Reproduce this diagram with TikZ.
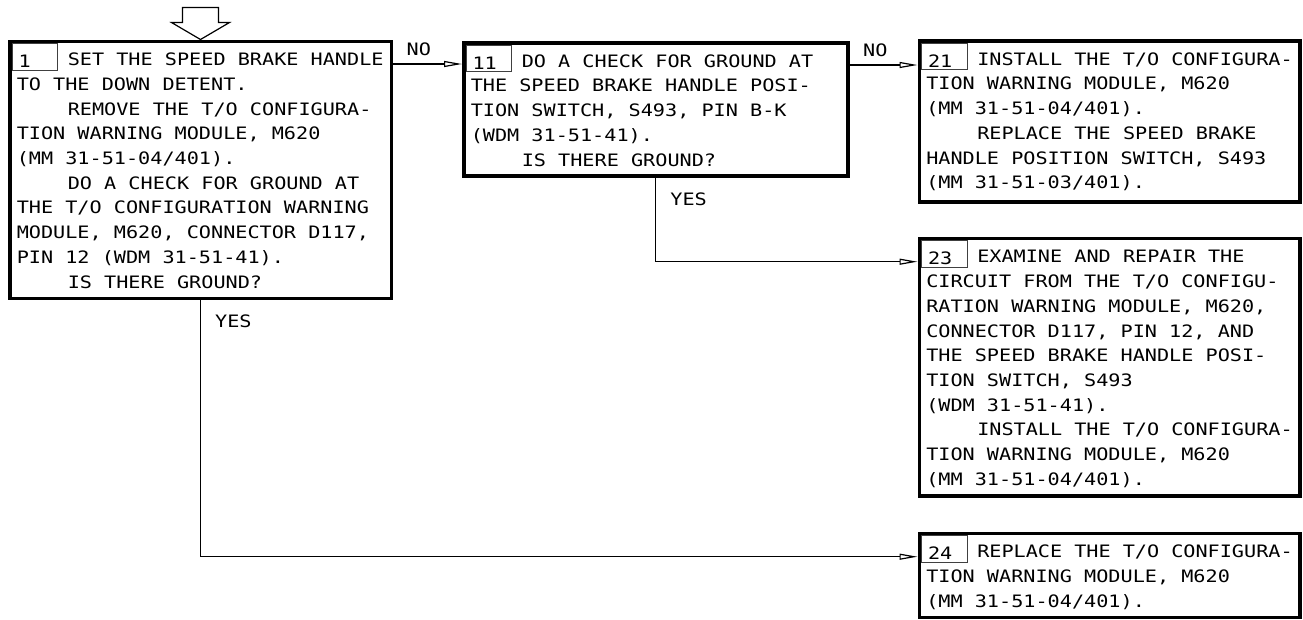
\documentclass[tikz,border=0pt]{standalone}
\usepackage{fontspec}
\setmainfont{DejaVu Sans Mono}[FakeStretch=1.18]
\usetikzlibrary{arrows.meta, calc}
\newcommand{\stepfont}{\fontsize{17.1}{24.7}\selectfont\frenchspacing}
\newcommand{\ind}{\hspace*{51pt}}

\begin{document}
\begin{tikzpicture}[x=1pt, y=-1pt,
        font=\stepfont,
        stepbox/.style={rectangle, draw, line width=3.5pt, inner xsep=7pt, inner ysep=9pt,
                        align=flush left, text height=15.5pt, anchor=north west},
        numcell/.style={rectangle, draw=black!75, line width=0.9pt, outer sep=0pt, inner xsep=6.5pt,
                        inner ysep=1pt, text width=32.5pt, align=flush left, text height=23pt,
                        text depth=1.5pt, anchor=north west},
        flow/.style={-{Triangle[open, length=18pt, width=6pt]}, line width=1.2pt},
        answer/.style={inner sep=0pt, anchor=base west}
    ]
    \useasboundingbox (0,0) rectangle (1303,619);
    \node[stepbox, text width=367.5pt, text depth=223.5pt] (b1) at (8,39.5)
        {\ind SET THE SPEED BRAKE HANDLE\\TO THE DOWN DETENT.\\\ind REMOVE THE T/O CONFIGURA-\\TION WARNING MODULE, M620\\(MM 31-51-04/401).\\\ind DO A CHECK FOR GROUND AT\\THE T/O CONFIGURATION WARNING\\MODULE, M620, CONNECTOR D117,\\PIN 12 (WDM 31-51-41).\\\ind IS THERE GROUND?};
    \node[stepbox, text width=370pt, text depth=99.5pt] (b11) at (462,41)
        {\ind DO A CHECK FOR GROUND AT\\THE SPEED BRAKE HANDLE POSI-\\TION SWITCH, S493, PIN B-K\\(WDM 31-51-41).\\\ind IS THERE GROUND?};
    \node[stepbox, text width=366.5pt, text depth=127.5pt] (b21) at (917.5,39)
        {\ind INSTALL THE T/O CONFIGURA-\\TION WARNING MODULE, M620\\(MM 31-51-04/401).\\\ind REPLACE THE SPEED BRAKE\\HANDLE POSITION SWITCH, S493\\(MM 31-51-03/401).};
    \node[stepbox, text width=366.5pt, text depth=224pt] (b23) at (917.5,236.7)
        {\ind EXAMINE AND REPAIR THE\\CIRCUIT FROM THE T/O CONFIGU-\\RATION WARNING MODULE, M620,\\CONNECTOR D117, PIN 12, AND\\THE SPEED BRAKE HANDLE POSI-\\TION SWITCH, S493\\(WDM 31-51-41).\\\ind INSTALL THE T/O CONFIGURA-\\TION WARNING MODULE, M620\\(MM 31-51-04/401).};
    \node[stepbox, text width=366.5pt, text depth=50.3pt] (b24) at (917.5,531.7)
        {\ind REPLACE THE T/O CONFIGURA-\\TION WARNING MODULE, M620\\(MM 31-51-04/401).};
    \foreach \b/\n in {b1/1, b11/11, b21/21, b23/23, b24/24}
        \node[numcell] (c\n) at ([shift={(4pt,-4pt)}]\b.north west) {\n};
    \draw[line width=1.2pt] (b1.north) -- ++(-29,-17) -- ++(11,0) -- ++(0,-15) -- ++(36,0)
        -- ++(0,15) -- ++(11,0) -- cycle;
    \coordinate (no1) at ([yshift=-24.5pt]b1.north east);
    \coordinate (no11) at ([yshift=-24pt]b11.north east);
    \coordinate (in23) at ([yshift=-25pt]b23.north west);
    \coordinate (in24) at ([yshift=-25pt]b24.north west);
    \draw[flow] (no1) -- (no1 -| b11.west) node[answer, pos=0, xshift=13pt, yshift=9pt] {NO};
    \draw[flow] (no11) -- (no11 -| b21.west) node[answer, pos=0, xshift=13pt, yshift=9pt] {NO};
    \draw[flow] (b11.south) |- (in23) node[answer, pos=0, xshift=14pt, yshift=-27.5pt] {YES};
    \draw[flow] (b1.south) |- (in24) node[answer, pos=0, xshift=14pt, yshift=-27.5pt] {YES};
\end{tikzpicture}
\end{document}
